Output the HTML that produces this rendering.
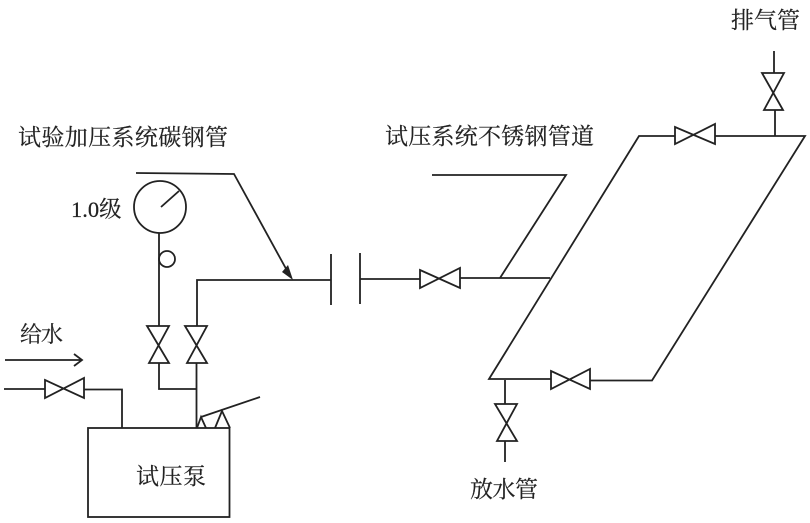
<!DOCTYPE html>
<html lang="zh">
<head>
<meta charset="utf-8">
<title>试压系统</title>
<style>
html,body{margin:0;padding:0;background:#fff;width:810px;height:523px;overflow:hidden}
svg{display:block}
text{font-family:"Liberation Serif","Noto Serif CJK SC",serif;fill:#222;stroke:#222;stroke-width:0.2}
.l{fill:none;stroke:#222;stroke-width:1.8;stroke-linejoin:miter}
</style>
</head>
<body>
<svg width="810" height="523" viewBox="0 0 810 523" xmlns="http://www.w3.org/2000/svg">
<g class="l">
<!-- parallelogram -->
<path d="M675 136H639L489 379H551M590 380.500H652L805 136H715"/>
<!-- vent -->
<path d="M774 51V73M775 110V136"/>
<path d="M762 73H784L764 110H783Z"/>
<!-- top valve -->
<path d="M675 127L715 144V124L675 144Z"/>
<!-- bottom valve -->
<path d="M551 371L590 389V369L551 389Z"/>
<!-- drain -->
<path d="M505 380V404M505 441V462"/>
<path d="M495 404H517L497 441H517Z"/>
<!-- stainless steel line -->
<path d="M360 279H420M460 278H550"/>
<path d="M420 270L460 288V268L420 288Z"/>
<path d="M432 175H566L500 278"/>
<!-- flange -->
<path d="M331 254V305M360 253V304"/>
<!-- carbon steel pipe -->
<path d="M197 326V280H331"/>
<!-- leader -->
<path d="M136 173L234 174L290 276"/>
<!-- gauge -->
<circle cx="160" cy="207" r="26"/>
<path d="M161 207L179 191"/>
<path d="M159 233V326"/>
<circle cx="167" cy="259" r="8"/>
<!-- vertical valves -->
<path d="M147 326H169L149 363H169Z"/>
<path d="M185 326H207L187 363H207Z"/>
<path d="M159 363V389H196M196.500 363V428"/>
<!-- feed -->
<path d="M5 360H82M74 354L82 360L74 366"/>
<path d="M4 389H45M84 389.500H122V428"/>
<path d="M45 380L84 398V378L45 398Z"/>
<!-- pump -->
<rect x="88" y="428" width="141.500" height="89"/>
<path d="M197 428L201 417L206 428M215 428L222 411L230 428"/>
<path d="M201 417L260 397"/>
</g>
<polygon points="293,280 282,272 288,265" fill="#222"/>
<text x="18" y="145" font-size="23" textLength="210">试验加压系统碳钢管</text>
<text x="385" y="144" font-size="23" textLength="209">试压系统不锈钢管道</text>
<text x="731" y="28" font-size="23" textLength="69">排气管</text>
<text x="470" y="497" font-size="23" textLength="68">放水管</text>
<text x="71" y="217" font-size="22.500">1.0级</text>
<text x="20" y="342" font-size="22" textLength="43">给水</text>
<text x="136" y="484" font-size="23" textLength="70">试压泵</text>
</svg>
</body>
</html>
